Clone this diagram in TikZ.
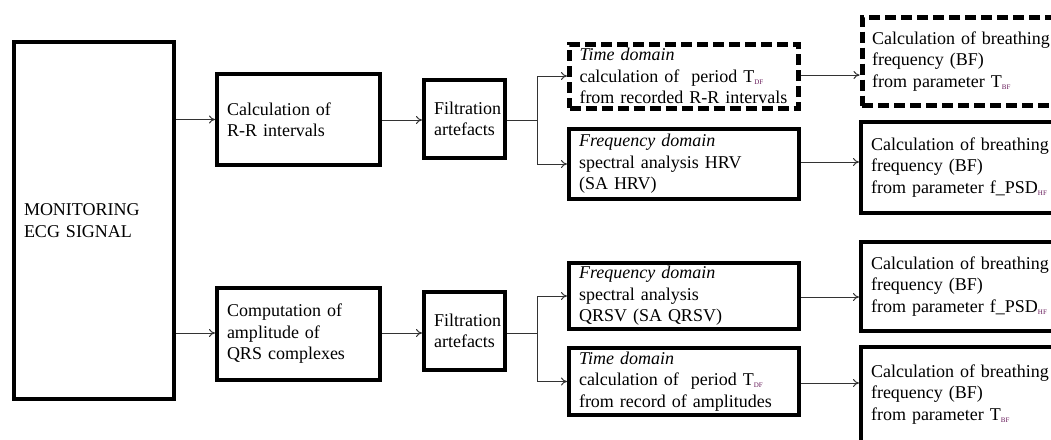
\documentclass[tikz,border=0pt]{standalone}
\usepackage{fontspec}
\setmainfont{Liberation Serif}
\usetikzlibrary{arrows.meta}
\definecolor{subcol}{rgb}{0.40,0.10,0.35}
\newcommand{\sbs}[1]{\raisebox{-2pt}{\textcolor{subcol}{\fontsize{7}{7}\selectfont #1}}}
\hbadness=10000 \hfuzz=50pt
\tikzset{
  box/.style={draw=black, line width=4pt, rectangle, fill=white, align=left,
    inner xsep=10pt, inner ysep=0pt, font=\fontsize{18}{21.5}\selectfont},
  dbox/.style={box, line width=5pt, dash pattern=on 11pt off 5pt},
  cbox/.style={box, align=center},
  conn/.style={line width=1pt, draw=black!80},
  arr/.style={conn, -{To[length=6pt,width=8pt]}}
}
\begin{document}
\begin{tikzpicture}[x=1pt,y=-1pt]
\useasboundingbox (0,0) rectangle (1051,439);
\fill[white] (0,0) rectangle (1051,439);
\clip (0,0) rectangle (1051,439);

\node[box, text width=140pt, minimum height=357pt] (ecg) at (94,220.5) {\rule{0pt}{10pt}MONITORING\\ECG SIGNAL};
\node[box, text width=143pt, minimum height=91pt] (rr) at (298.5,119.5) {Calculation of\\R-R intervals};
\node[box, text width=143pt, minimum height=92pt] (qrs) at (298.5,334) {Computation of\\amplitude of\\QRS complexes};
\node[cbox, text width=61pt, minimum height=78pt] (f1) at (464.5,119) {Filtration\\artefacts};
\node[cbox, text width=61pt, minimum height=78pt] (f2) at (464.5,331) {Filtration\\artefacts};

\node[dbox, text width=209pt, minimum height=64pt] (td1) at (684,76) {\textit{Time domain}\\\mbox{calculation of\ \ period T\sbs{DF}}\\\mbox{from recorded R-R intervals}};
\node[box, text width=210pt, minimum height=70pt] (fd1) at (684,164) {\textit{Frequency domain}\\spectral analysis HRV\\(SA HRV)};
\node[box, text width=210pt, minimum height=66pt] (fd2) at (684,296) {\textit{Frequency domain}\\spectral analysis\\QRSV (SA QRSV)};
\node[box, text width=210pt, minimum height=67pt] (td2) at (684,381.5) {\textit{Time domain}\\\mbox{calculation of\ \ period T\sbs{DF}}\\\mbox{from record of amplitudes}};

\node[dbox, text width=185pt, minimum height=88pt, anchor=west] (r1) at (859.5,61.5) {\mbox{Calculation of breathing}\\frequency (BF)\\from parameter T\sbs{BF}};
\node[box, text width=185pt, minimum height=91pt, anchor=west] (r2) at (859,167.5) {\mbox{Calculation of breathing}\\frequency (BF)\\\mbox{from parameter f\_PSD\sbs{HF}}};
\node[box, text width=185pt, minimum height=89pt, anchor=west] (r3) at (859,286.5) {\mbox{Calculation of breathing}\\frequency (BF)\\\mbox{from parameter f\_PSD\sbs{HF}}};
\node[box, text width=185pt, minimum height=95pt, anchor=west] (r4) at (859,394.5) {\mbox{Calculation of breathing}\\frequency (BF)\\from parameter T\sbs{BF}};

\coordinate (b1) at (537,120);
\coordinate (b2) at (537,333);

\draw[arr] (ecg.east |- rr.west) -- (rr.west);
\draw[arr] (ecg.east |- 0,333) -- (qrs.west |- 0,333);
\draw[arr] (rr.east |- 0,120) -- (f1.west |- 0,120);
\draw[arr] (qrs.east |- 0,333) -- (f2.west |- 0,333);
\draw[conn] (f1.east |- b1) -- (b1);
\draw[conn] (f2.east |- b2) -- (b2);
\draw[arr] (b1) |- (td1.west);
\draw[arr] (b1) |- (fd1.west);
\draw[arr] (b2) |- (fd2.west);
\draw[arr] (b2) |- (td2.west);

\draw[arr] (td1.east |- 0,75) -- (r1.west |- 0,75);
\draw[arr] (fd1.east |- 0,162) -- (r2.west |- 0,162);
\draw[arr] (fd2.east |- 0,297) -- (r3.west |- 0,297);
\draw[arr] (td2.east |- 0,383) -- (r4.west |- 0,383);
\end{tikzpicture}
\end{document}
